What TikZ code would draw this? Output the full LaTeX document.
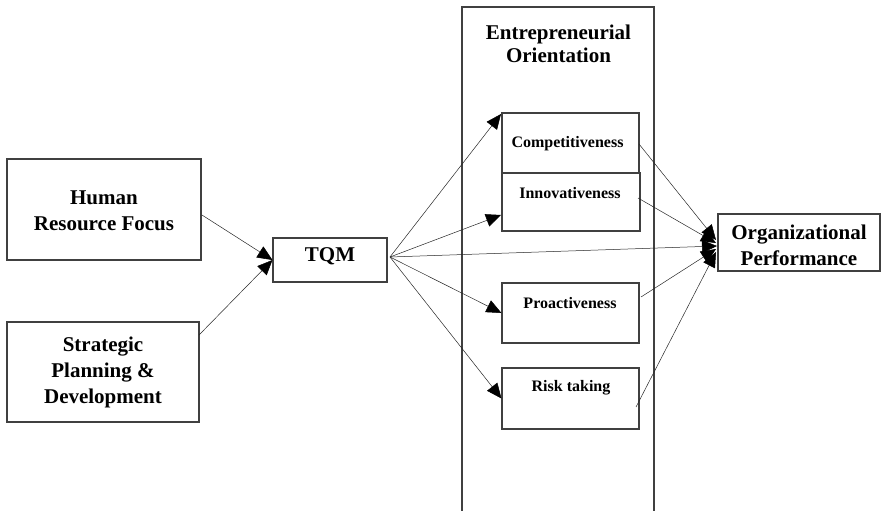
\documentclass[tikz,border=0pt]{standalone}
\usepackage{fontspec}
\setmainfont{Liberation Serif}
\usetikzlibrary{arrows.meta,calc}
\begin{document}
\begin{tikzpicture}[x=1pt,y=-1pt,
  box/.style={draw=black!75, line width=1.1pt, inner sep=0pt},
  bigtext/.style={font=\fontsize{21}{26}\selectfont\bfseries, align=center, inner sep=0pt},
  eotext/.style={font=\fontsize{21}{23.5}\selectfont\bfseries, align=center, inner sep=0pt},
  smalltext/.style={font=\fontsize{16}{19}\selectfont\bfseries, inner sep=0pt},
  conn/.style={draw=black!85, line width=0.5pt, -{Triangle[length=15pt,width=13pt,color=black,fill=black]}},
  plain/.style={draw=black!85, line width=0.5pt}]
\useasboundingbox (0,0) rectangle (881,511);

% boxes
\node[box, minimum width=194pt, minimum height=101pt] (hrf) at (104,209.5) {};
\node[box, minimum width=192pt, minimum height=100pt] (spd) at (103,372) {};
\node[box, minimum width=114pt, minimum height=44pt] (tqm) at (330,260) {};
\node[box, minimum width=192pt, minimum height=520pt] (eo) at (558,267) {};
\node[box, minimum width=137pt, minimum height=60pt] (comp) at (570.5,143) {};
\node[box, minimum width=138pt, minimum height=58pt] (inn) at (571,202) {};
\node[box, minimum width=137pt, minimum height=60pt] (pro) at (570.5,313) {};
\node[box, minimum width=137pt, minimum height=61pt] (risk) at (570.5,398.5) {};
\node[box, minimum width=162pt, minimum height=57pt] (org) at (799,242.5) {};

% texts
\node[bigtext] (hrfT) at (104,211) {Human\\Resource Focus};
\node[bigtext] (spdT) at (103,372) {Strategic\\Planning \&\\Development};
\node[bigtext] (tqmT) at (330,256) {TQM};
\node[eotext] (eoT) at (558.5,44) {Entrepreneurial\\Orientation};
\node[smalltext] (compT) at (567.5,144) {Competitiveness};
\node[smalltext] (innT) at (570,193) {Innovativeness};
\node[smalltext] (proT) at (570,303) {Proactiveness};
\node[smalltext] (riskT) at (571,388) {Risk taking};
\node[bigtext] (orgT) at (799,245) {Organizational\\Performance};

% connector points
\coordinate (hrfOut) at (202,215);
\coordinate (spdOut) at (199,335);
\coordinate (tqmOut) at (390,257);
\coordinate (compIn) at (501,114);
\coordinate (innIn) at (501,215);
\coordinate (compOut) at (639,144);
\coordinate (innOut) at (638,198);
\coordinate (proOut) at (641,297);
\coordinate (riskOut) at (636,407);
\coordinate (orgIn1) at (716,240);
\coordinate (orgIn2) at (716,243);
\coordinate (orgIn3) at (717,246);
\coordinate (orgIn4) at (716,249);
\coordinate (orgIn5) at (716,252);

% connectors
\draw[conn] (hrfOut) -- (tqm.west);
\draw[conn] (spdOut) -- (tqm.west);
\draw[conn] (tqmOut) -- (compIn);
\draw[conn] (tqmOut) -- (innIn);
\draw[conn] (tqmOut) -- (pro.west);
\draw[conn] (tqmOut) -- (risk.west);
\draw[conn] (tqmOut) -- (orgIn3);
\draw[conn] (compOut) -- (orgIn1);
\draw[conn] (innOut) -- (orgIn2);
\draw[conn] (proOut) -- (orgIn4);
\draw[conn] (riskOut) -- (orgIn5);
\end{tikzpicture}
\end{document}
